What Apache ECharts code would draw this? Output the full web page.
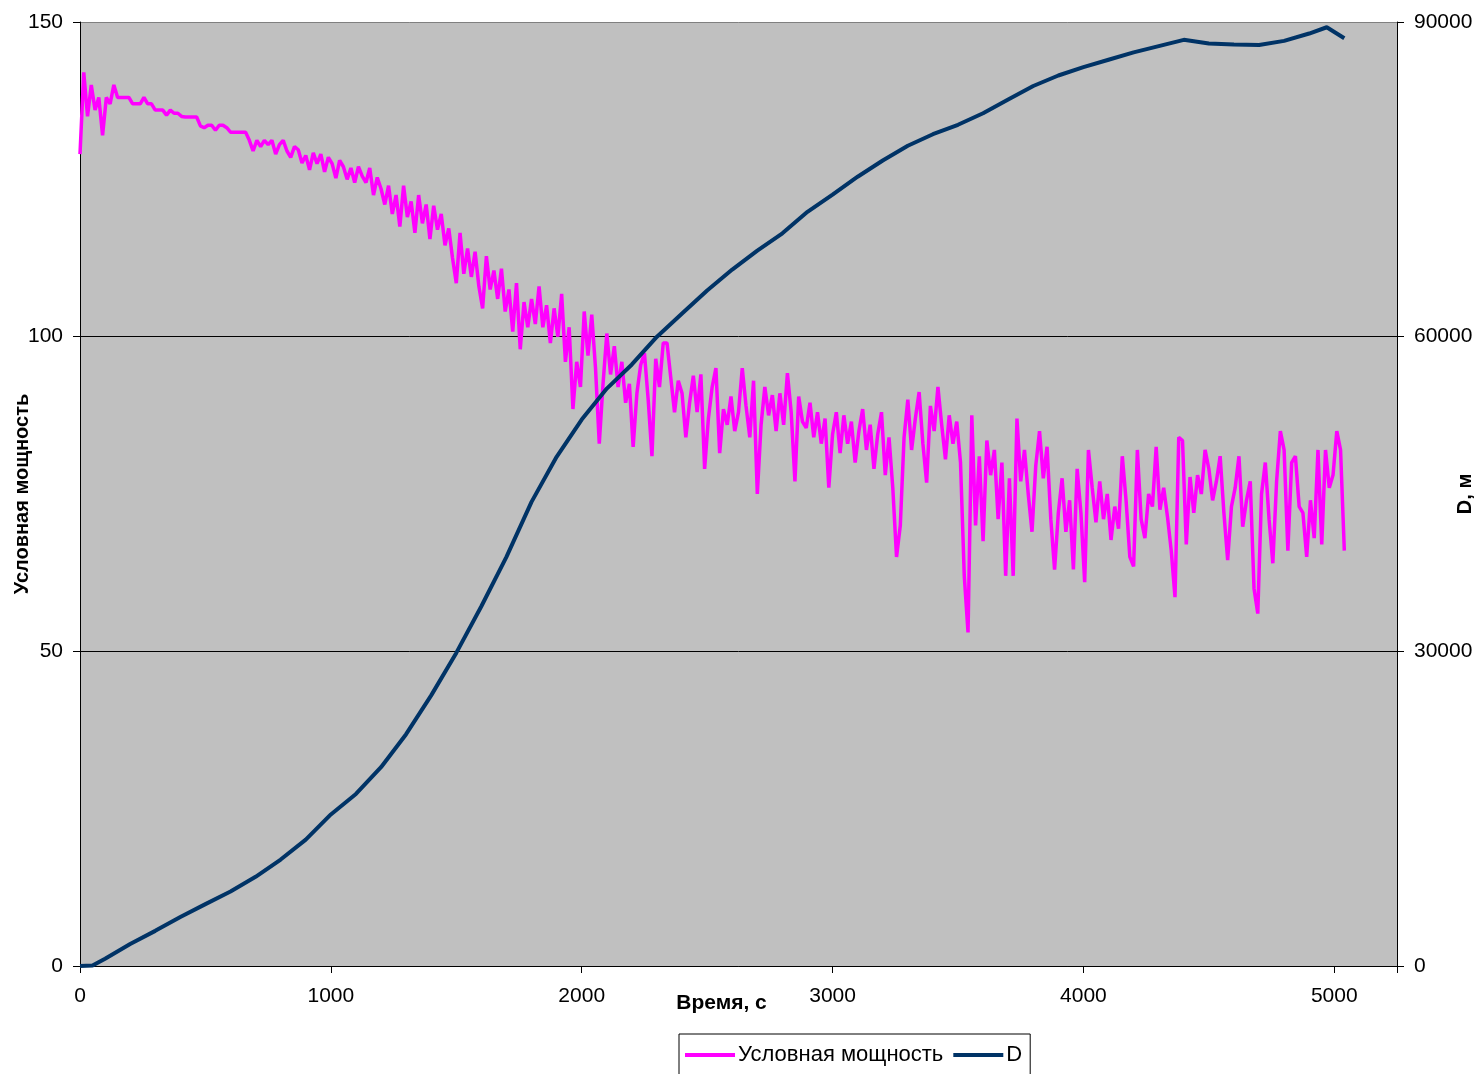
<!DOCTYPE html>
<html>
<head>
<meta charset="utf-8">
<script src="https://cdn.jsdelivr.net/npm/echarts@6/dist/echarts.min.js"></script>
<style>
  html, body { margin: 0; padding: 0; background: #fff; }
  #chart { width: 1480px; height: 1074px; }
</style>
</head>
<body>
<div id="chart"></div>
<script>
// sampling step of the power log, seconds
var STEP = 15;

// Условная мощность, one value every STEP seconds from t = 0
var power = [
  129, 142, 135, 140, 136, 138, 132, 138, 137, 140, 138, 138, 138, 138, 137, 137, 137, 138, 137, 137,
  136, 136, 136, 135.2, 136, 135.5, 135.5, 135, 134.9, 134.9, 134.9, 134.9, 133.5, 133.2, 133.6, 133.6, 132.8, 133.6, 133.6, 133.2,
  132.5, 132.5, 132.5, 132.5, 132.5, 131.2, 129.5, 131.2, 130.2, 131.2, 130.5, 131.2, 129, 130.5, 131.2, 129.5, 128.5, 130.2, 129.7, 127.6,
  128.8, 126.5, 129.2, 127.5, 129, 126.2, 128.5, 127.5, 125.2, 128, 127, 125, 126.8, 124.5, 127, 125.5, 124.5, 126.8, 122.5, 125.3,
  123.5, 121, 124, 119.5, 122.5, 117.5, 124, 119, 121.5, 116.5, 122.5, 118, 121, 115.5, 120.8, 117, 119.5, 114.5, 117.2, 112.5,
  108.5, 116.5, 110, 114, 109.5, 113.5, 108, 104.5, 112.8, 107.5, 110.5, 106, 110.8, 104, 107.5, 100.8, 108.5, 98, 105.5, 101.5,
  106, 102, 108, 101.5, 105, 99, 104.5, 100, 106.8, 96, 101.5, 88.5, 96, 92, 104, 97, 103.5, 95, 83, 92.5,
  100.5, 94, 98.5, 92, 96, 89.5, 92.5, 82.5, 91, 95.5, 97.4, 90, 81, 96.5, 92, 99, 99, 93.5, 88, 93,
  91, 84, 89.5, 93.8, 88, 94, 79, 87, 92, 95, 81.5, 88.5, 86, 90.5, 85, 88, 95, 89, 84, 93,
  75, 86, 92, 87.5, 90.7, 85, 91, 86, 94.2, 88, 77, 90.5, 86.5, 85.5, 89.5, 84, 88, 83, 87, 76,
  84.5, 88, 81.5, 87.5, 83, 86.5, 80, 85, 88.5, 82, 86, 79, 84.5, 88, 78, 84, 76, 65, 70, 84,
  90, 82, 87, 91.2, 83, 76.8, 89, 85, 92, 86, 80.5, 87.5, 83, 86.5, 80, 62, 53, 87.5, 70, 81,
  67.5, 83.5, 78, 82, 71, 80, 62, 77.5, 62, 87, 77, 82, 75, 69, 79.5, 85, 77.5, 82.5, 71, 63,
  72, 77.5, 69, 74, 63, 79, 72, 61, 82, 76, 70.5, 77, 71, 75, 67.7, 73, 69.5, 81, 74, 65,
  63.5, 82, 71, 68, 75, 73, 82.5, 72.5, 76, 71.4, 66, 58.6, 84, 83.5, 67, 77.7, 72, 78, 75, 82,
  79, 74, 77, 81, 72, 64.5, 73, 76, 81, 69.8, 74, 77, 60, 56, 75, 80, 71, 64, 77, 85,
  82, 66, 80, 81, 73, 72, 65, 74, 68, 82, 67, 82, 76, 78, 85, 82, 66
];

// D, м
var dTime = [0, 50, 100, 200, 300, 400, 500, 600, 700, 800, 900, 1000, 1100, 1200, 1300, 1400, 1500, 1600, 1700, 1800,
  1900, 2000, 2100, 2200, 2300, 2400, 2500, 2600, 2700, 2800, 2900, 3000, 3100, 3200, 3300, 3400, 3500, 3600, 3700, 3800,
  3900, 4000, 4100, 4200, 4300, 4400, 4500, 4600, 4700, 4800, 4900, 4970, 5040];
var dist = [0, 50, 700, 2100, 3350, 4670, 5900, 7100, 8500, 10150, 12050, 14450, 16400, 18950, 22100, 25800, 29850, 34300, 39000, 44250,
  48550, 52100, 55050, 57350, 60000, 62200, 64400, 66400, 68200, 69850, 71900, 73550, 75250, 76800, 78200, 79300, 80200, 81300, 82600, 83900,
  84900, 85700, 86400, 87100, 87700, 88300, 87950, 87850, 87800, 88200, 88900, 89500, 88450];

var xTicks = [0, 1000, 2000, 3000, 4000, 5000];

var powerData = power.map(function (v, i) { return [i * STEP, v]; });
var distData = dist.map(function (v, i) { return [dTime[i], v]; });

var font = 'Liberation Sans, Arial, sans-serif';

var options = {
  animation: false,
  textStyle: { fontFamily: font },
  grid: {
    left: 80,
    right: 83,
    top: 22,
    bottom: 108,
    outerBoundsMode: 'none',
    containLabel: false,
    show: true,
    backgroundColor: '#C0C0C0',
    borderWidth: 0
  },
  legend: {
    left: 679,
    top: 1034,
    padding: [10, 8, 16, 6],
    itemGap: 10,
    itemWidth: 50,
    itemHeight: 4,
    icon: 'rect',
    borderColor: '#000',
    borderWidth: 1,
    backgroundColor: '#fff',
    textStyle: { fontFamily: font, fontSize: 22, color: '#000', padding: [0, 0, 0, -2] },
    data: ['Условная мощность', 'D']
  },
  xAxis: {
    type: 'value',
    min: 0,
    max: 5250,
    interval: 1000,
    name: 'Время, с',
    nameLocation: 'middle',
    nameGap: 27,
    nameMoveOverlap: false,
    nameTextStyle: { fontFamily: font, fontSize: 21, fontWeight: 'bold', color: '#000', padding: [0, 34, 0, 0] },
    axisLine: { lineStyle: { color: '#000', width: 1 } },
    axisTick: { length: 7, lineStyle: { color: '#000' } },
    axisLabel: {
      margin: 20,
      fontSize: 21,
      color: '#000',
      formatter: function (v) { return xTicks.indexOf(v) >= 0 ? String(v) : ''; }
    },
    splitLine: { show: false }
  },
  yAxis: [{
    type: 'value',
    min: 0,
    max: 150,
    interval: 50,
    position: 'left',
    name: 'Условная мощность',
    nameLocation: 'middle',
    nameGap: 48,
    nameRotate: 90,
    nameMoveOverlap: false,
    nameTextStyle: { fontFamily: font, fontSize: 20, fontWeight: 'bold', color: '#000' },
    axisLine: { show: true, lineStyle: { color: '#000', width: 1 } },
    axisTick: { show: true, length: 7, lineStyle: { color: '#000' } },
    axisLabel: { margin: 17, fontSize: 21, color: '#000', formatter: function (v) { return String(v); } },
    splitLine: { show: true, lineStyle: { color: ['#000', '#000', '#000', '#808080'], width: 1 } }
  }, {
    type: 'value',
    min: 0,
    max: 90000,
    interval: 30000,
    position: 'right',
    name: 'D, м',
    nameLocation: 'middle',
    nameGap: 58,
    nameRotate: 90,
    nameMoveOverlap: false,
    nameTextStyle: { fontFamily: font, fontSize: 20, fontWeight: 'bold', color: '#000' },
    axisLine: { show: true, lineStyle: { color: '#000', width: 1 } },
    axisTick: { show: true, length: 7, lineStyle: { color: '#000' } },
    axisLabel: { margin: 17, fontSize: 21, color: '#000', formatter: function (v) { return String(v); } },
    splitLine: { show: false }
  }],
  series: [{
    name: 'Условная мощность',
    type: 'line',
    yAxisIndex: 0,
    showSymbol: false,
    symbol: 'none',
    lineStyle: { color: '#FF00FF', width: 3.5 },
    itemStyle: { color: '#FF00FF' },
    data: powerData
  }, {
    name: 'D',
    type: 'line',
    yAxisIndex: 1,
    showSymbol: false,
    symbol: 'none',
    lineStyle: { color: '#003366', width: 4 },
    itemStyle: { color: '#003366' },
    data: distData
  }]
};

var myChart = echarts.init(document.getElementById('chart'));
myChart.setOption(options, true);
</script>
</body>
</html>
